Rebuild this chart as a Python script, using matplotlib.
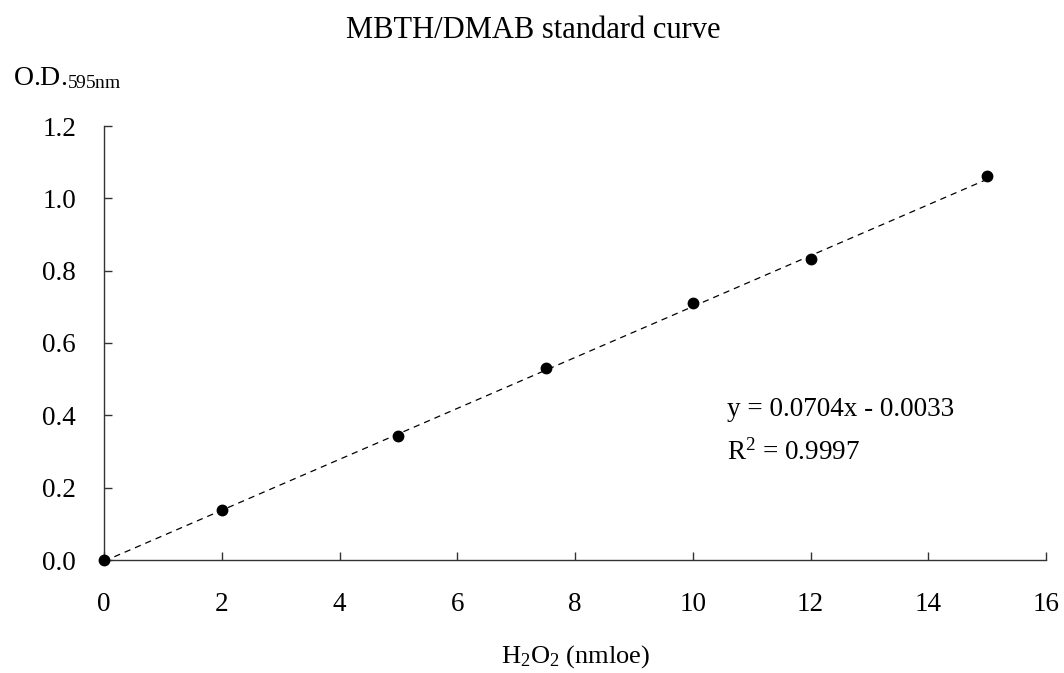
import matplotlib
matplotlib.use("Agg")
import matplotlib.pyplot as plt
import numpy as np

plt.rcParams['font.family'] = ['Liberation Serif', 'DejaVu Serif']
plt.rcParams['mathtext.fontset'] = 'custom'
plt.rcParams['mathtext.rm'] = 'Liberation Serif'
plt.rcParams['mathtext.it'] = 'Liberation Serif:italic'
plt.rcParams['mathtext.bf'] = 'Liberation Serif:bold'

h2o2 = [0, 2, 5, 7.5, 10, 12, 15]
od595 = [0.0, 0.138, 0.343, 0.531, 0.710, 0.832, 1.062]
slope = 0.0704
intercept = -0.0033
x_ticks = [0, 2, 4, 6, 8, 10, 12, 14, 16]
y_ticks = [0.0, 0.2, 0.4, 0.6, 0.8, 1.0, 1.2]

fig = plt.figure(figsize=(10.64, 6.73), dpi=100)
ax = fig.add_axes([104/1064, 1-560/673, (1046-104)/1064, (560-126)/673])

xl = np.array([h2o2[0], h2o2[-1]])
ax.plot(xl, slope*xl + intercept, ls=(0, (5, 4)), color='black', lw=0.9, clip_on=False)
ax.plot(h2o2, od595, 'o', color='black', markersize=7.5, clip_on=False, zorder=5)

ax.set_xlim(0, 16)
ax.set_ylim(0, 1.2)
ax.set_xticks(x_ticks)
ax.set_yticks(y_ticks)
ax.set_yticklabels([f"{v:.1f}" for v in y_ticks])
ax.spines['top'].set_visible(False)
ax.spines['right'].set_visible(False)
for s in ['left', 'bottom']:
    ax.spines[s].set_linewidth(1.0)
    ax.spines[s].set_color('#333333')
ax.tick_params(direction='in', length=6, width=1.0, color='#333333', labelsize=19.5)
ax.tick_params(axis='x', pad=23)
ax.tick_params(axis='y', pad=20)

fig.text(533/1064, 1-38/673, 'MBTH/DMAB standard curve', ha='center', va='baseline', fontsize=22)
fig.text(13/1064, 1-85/673, r'O.D.$_{\mathrm{595nm}}$', ha='left', va='baseline', fontsize=20)
fig.text(576/1064, 1-663/673, r'H$_2$O$_2$ (nmloe)', ha='center', va='baseline', fontsize=19)

ax.text(727/1064, 1-410/673, 'y = 0.0704x - 0.0033', transform=fig.transFigure,
        ha='left', va='center', fontsize=19.5)
ax.text(727/1064, 1-452/673, r'R$^2$ = 0.9997', transform=fig.transFigure,
        ha='left', va='center', fontsize=19.5)

fig.savefig('out.png', dpi=100)
